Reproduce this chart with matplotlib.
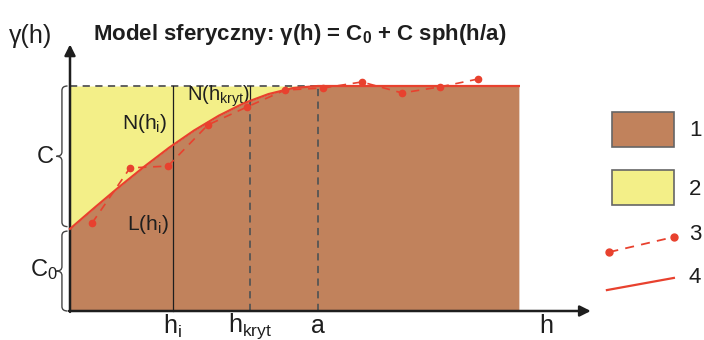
import numpy as np
import matplotlib.pyplot as plt
from matplotlib.path import Path
from matplotlib.patches import PathPatch, Rectangle

plt.rcParams['font.family'] = ['Liberation Sans', 'DejaVu Sans']
plt.rcParams['mathtext.fontset'] = 'custom'
plt.rcParams['mathtext.rm'] = 'Liberation Sans'
plt.rcParams['mathtext.it'] = 'Liberation Sans:italic'
plt.rcParams['mathtext.bf'] = 'Liberation Sans:bold'

# model parameters (a = 10 units, sill = 10 units)
c0 = 3.65
sill = 10.0
a = 10.0
h_i = 4.15
h_kryt = 7.26
h_end = 18.1

# spherical model curve (line 4)
model_h = [0, 1, 2, 3, 4, 5, 6, 7, 8, 9, 10, 18.1]
model_g = [3.65, 4.60, 5.53, 6.42, 7.26, 8.02, 8.68, 9.23, 9.64, 9.91, 10.0, 10.0]

# empirical semivariogram (line 3)
emp_h = [0.89, 2.42, 3.95, 5.56, 7.14, 8.67, 10.2, 11.77, 13.39, 14.92, 16.45]
emp_g = [3.91, 6.36, 6.44, 8.27, 9.07, 9.82, 9.91, 10.18, 9.69, 9.96, 10.31]

brown = '#c1825c'
yellow = '#f3ef88'
red = '#e8412e'
grey = '#555555'
dark = '#1e1e1e'

fig = plt.figure(figsize=(7.04, 3.40), dpi=100)
ax = fig.add_axes([0, 0, 1, 1])
ax.set_xlim(-70 / 24.8, 634 / 24.8)
ax.set_ylim(-29 / 22.5, 311 / 22.5)
ax.axis('off')

# areas
ax.fill_between(model_h, 0, model_g, color=brown, lw=0)
ax.fill_between(model_h[:11], model_g[:11], sill, color=yellow, lw=0)

# guide lines
ax.plot([0, a], [sill, sill], ls=(0, (4, 3)), color=grey, lw=1.3)
ax.plot([a, a], [0, sill], ls=(0, (4, 3)), color=grey, lw=1.3)
g_kryt = np.interp(h_kryt, model_h, model_g)
ax.plot([h_kryt, h_kryt], [0, g_kryt], ls=(0, (4, 3)), color=grey, lw=1.3)
ax.plot([h_kryt, h_kryt], [g_kryt, sill], color=dark, lw=0.9)
ax.plot([h_i, h_i], [0, sill], color=dark, lw=0.9)

# model and empirical lines
ax.plot(model_h, model_g, color=red, lw=1.6, zorder=4)
ax.plot(emp_h, emp_g, color=red, lw=1.2, ls=(0, (5, 4)), marker='o', ms=4.5, zorder=5)

# axes with arrows
ax.annotate('', xy=(0, 11.85), xytext=(0, -0.04),
            arrowprops=dict(arrowstyle='-|>', lw=1.8, color=dark, mutation_scale=16, shrinkA=0, shrinkB=0))
ax.annotate('', xy=(21.0, 0), xytext=(-0.04, 0),
            arrowprops=dict(arrowstyle='-|>', lw=1.8, color=dark, mutation_scale=16, shrinkA=0, shrinkB=0))


def brace(x, y0, y1, w, r):
    ym = (y0 + y1) / 2
    xs = x - w / 2
    verts = [(x, y0), (xs, y0), (xs, y0 + r), (xs, ym - r), (xs, ym), (x - w, ym),
             (xs, ym), (xs, ym + r), (xs, y1 - r), (xs, y1), (x, y1)]
    codes = [Path.MOVETO, Path.CURVE3, Path.CURVE3, Path.LINETO, Path.CURVE3, Path.CURVE3,
             Path.CURVE3, Path.CURVE3, Path.LINETO, Path.CURVE3, Path.CURVE3]
    ax.add_patch(PathPatch(Path(verts, codes), fill=False, ec='#444444', lw=1.0))


brace(-0.1, c0 + 0.1, sill, 0.45, 0.2)
brace(-0.1, 0, c0 - 0.1, 0.45, 0.2)

# texts
ax.text(-1.0, (c0 + sill) / 2, 'C', fontsize=17, ha='center', va='center', color=dark)
ax.text(-1.05, c0 / 2, 'C$_\\mathrm{0}$', fontsize=17, ha='center', va='center', color=dark)
ax.text(-1.6, 12.2, '\u03b3(h)', fontsize=18, ha='center', va='center', color=dark)
ax.text(0.93, 12.3, 'Model sferyczny: \u03b3(h) = C$_\\mathbf{0}$ + C sph(h/a)', fontsize=16,
        fontweight='bold', ha='left', va='center', color=dark)
ax.text(3.0, 8.35, 'N(h$_\\mathrm{i}$)', fontsize=15, ha='center', va='center', color=dark)
ax.text(3.15, 3.85, 'L(h$_\\mathrm{i}$)', fontsize=15, ha='center', va='center', color=dark)
ax.text(6.0, 9.55, 'N(h$_\\mathrm{kryt}$)', fontsize=14.5, ha='center', va='center', color=dark)

ax.text(h_i, -0.68, 'h$_\\mathrm{i}$', fontsize=18, ha='center', va='center', color=dark)
ax.text(h_kryt, -0.68, 'h$_\\mathrm{kryt}$', fontsize=18, ha='center', va='center', color=dark)
ax.text(a, -0.68, 'a', fontsize=18, ha='center', va='center', color=dark)
ax.text(19.2, -0.65, 'h', fontsize=18, ha='center', va='center', color=dark)

# legend
ax.add_patch(Rectangle((21.85, 7.29), 2.5, 1.56, fc=brown, ec='#666666', lw=1.2))
ax.add_patch(Rectangle((21.85, 4.71), 2.5, 1.56, fc=yellow, ec='#666666', lw=1.2))
ax.plot([21.75, 24.35], [2.62, 3.29], color=red, lw=1.3, ls=(0, (5, 4)), marker='o', ms=5)
ax.plot([21.65, 24.35], [0.93, 1.47], color=red, lw=1.6)
for lab, y in zip(['1', '2', '3', '4'], [8.04, 5.38, 3.38, 1.51]):
    ax.text(24.95, y, lab, fontsize=16, ha='left', va='center', color=dark)

fig.savefig('out.png', dpi=100)
